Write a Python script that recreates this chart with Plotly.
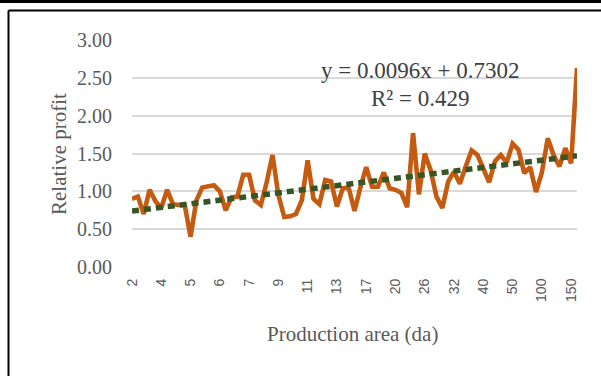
import plotly.graph_objects as go

# Relative profit per farm, ordered by production area (77 farms)
profit = [
    0.90, 0.93, 0.70, 1.02, 0.87, 0.78, 1.02, 0.83, 0.82, 0.82,
    0.40, 0.88, 1.05, 1.06, 1.08, 1.00, 0.75, 0.92, 0.93, 1.22,
    1.22, 0.88, 0.82, 1.12, 1.48, 0.95, 0.66, 0.67, 0.70, 0.88,
    1.41, 0.90, 0.83, 1.15, 1.13, 0.80, 1.04, 1.05, 0.74, 1.05,
    1.32, 1.06, 1.06, 1.25, 1.04, 1.02, 0.98, 0.79, 1.77, 0.96,
    1.50, 1.28, 0.93, 0.78, 1.13, 1.26, 1.10, 1.33, 1.54, 1.48,
    1.28, 1.12, 1.40, 1.48, 1.38, 1.63, 1.55, 1.24, 1.32, 0.99,
    1.25, 1.70, 1.48, 1.33, 1.57, 1.37, 2.63,
]
index = list(range(1, len(profit) + 1))

# Area labels shown on every fifth farm
tick_index = [1, 6, 11, 16, 21, 26, 31, 36, 41, 46, 51, 56, 61, 66, 71, 76]
tick_text = ["2", "4", "5", "6", "7", "9", "11", "13", "17", "20",
             "26", "32", "40", "50", "100", "150"]

# Linear trend
slope = 0.0096
intercept = 0.7302
r_squared = 0.429
trend = [slope * i + intercept for i in index]

W, H = 601, 376
L, R, T, B = 132, 577, 40, 267  # plot area in pixels


def px(x):
    return (x - L) / (R - L)


def py(y):
    return (B - y) / (B - T)


serif = "Liberation Serif, Times New Roman, serif"
grey = "#595959"

fig = go.Figure()
fig.add_trace(go.Scatter(
    x=index, y=profit, mode="lines",
    line=dict(color="#C55A11", width=4.6),
    hoverinfo="skip", showlegend=False,
))
fig.add_trace(go.Scatter(
    x=index, y=trend, mode="lines",
    line=dict(color="#375623", width=5.5, dash="7px,5px"),
    hoverinfo="skip", showlegend=False,
))


def label(text, x, y, size, color, angle=0):
    return dict(text=text, xref="paper", yref="paper", x=px(x), y=py(y),
                xanchor="center", yanchor="middle", showarrow=False,
                textangle=angle, font=dict(family=serif, size=size, color=color))


fig.update_layout(
    width=W, height=H,
    margin=dict(l=L, r=W - R, t=T, b=H - B),
    paper_bgcolor="white", plot_bgcolor="white",
    font=dict(family=serif, color=grey),
    xaxis=dict(
        range=[1, len(profit)],
        tickmode="array", tickvals=tick_index, ticktext=tick_text,
        tickangle=-90,
        tickfont=dict(family="Liberation Sans, Arial, sans-serif", size=14, color=grey),
        ticks="outside", ticklen=5, tickcolor="rgba(0,0,0,0)",
        showgrid=False, zeroline=False, showline=False,
    ),
    yaxis=dict(
        range=[0, 3], tickvals=[0, 0.5, 1, 1.5, 2, 2.5, 3],
        tickformat=".2f",
        tickfont=dict(family=serif, size=20, color=grey),
        ticks="outside", ticklen=15, tickcolor="rgba(0,0,0,0)",
        showgrid=True, gridcolor="#d9d9d9", gridwidth=1.5,
        zeroline=False, showline=False,
    ),
    shapes=[
        dict(type="line", xref="paper", yref="paper",
             x0=px(0), x1=px(W), y0=py(1.5), y1=py(1.5),
             line=dict(color="black", width=3)),
        dict(type="line", xref="paper", yref="paper",
             x0=px(8.5), x1=px(W), y0=py(10.5), y1=py(10.5),
             line=dict(color="black", width=2)),
        dict(type="line", xref="paper", yref="paper",
             x0=px(8.5), x1=px(8.5), y0=py(10.5), y1=py(H),
             line=dict(color="black", width=2)),
    ],
    annotations=[
        label(f"y = {slope:.4f}x + {intercept:.4f}", 420, 70, 23, "#404040"),
        label(f"R² = {r_squared:.3f}", 420, 98, 23, "#404040"),
        label("Production area (da)", 352, 334, 21, grey),
        label("Relative profit", 59, 154, 21, grey, angle=-90),
    ],
)

fig.write_html("out.html")
